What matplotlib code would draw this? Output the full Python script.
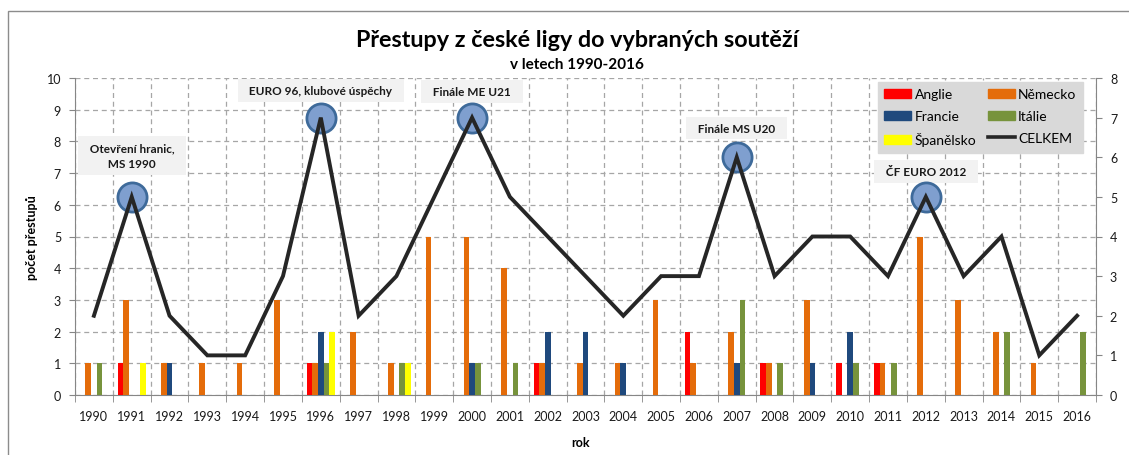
import numpy as np
import matplotlib
matplotlib.use("Agg")
import matplotlib.pyplot as plt
from matplotlib.patches import Rectangle, Patch
from matplotlib.lines import Line2D

plt.rcParams['font.family'] = ['Lato', 'DejaVu Sans']

years = [str(y) for y in range(1990, 2017)]
anglie    = [0,1,0,0,0,0,1,0,0,0,0,0,1,0,0,0,2,0,1,0,1,1,0,0,0,0,0]
nemecko   = [1,3,1,1,1,3,1,2,1,5,5,4,1,1,1,3,1,2,1,3,0,1,5,3,2,1,0]
francie   = [0,0,1,0,0,0,2,0,0,0,1,0,2,2,1,0,0,1,0,1,2,0,0,0,0,0,0]
italie    = [1,0,0,0,0,0,1,0,1,0,1,1,0,0,0,0,0,3,1,0,1,1,0,0,2,0,2]
spanelsko = [0,1,0,0,0,0,2,0,1,0,0,0,0,0,0,0,0,0,0,0,0,0,0,0,0,0,0]
celkem    = [2,5,2,1,1,3,7,2,3,5,7,5,4,3,2,3,3,6,3,4,4,3,5,3,4,1,2]
highlight_years = ['1991', '1996', '2000', '2007', '2012']
annotations = [
    ('Otevření hranic,\nMS 1990', '1991', 7.55),
    ('EURO 96, klubové úspěchy', '1996', 9.6),
    ('Finále ME U21', '2000', 9.57),
    ('Finále MS U20', '2007', 8.42),
    ('ČF EURO 2012', '2012', 7.05),
]

series = [('Anglie', anglie, '#FF0000'),
          ('Německo', nemecko, '#E46C0A'),
          ('Francie', francie, '#1F497D'),
          ('Itálie', italie, '#77933C'),
          ('Španělsko', spanelsko, '#FFFF00')]

W, H = 1129, 456
fig = plt.figure(figsize=(W/100, H/100), dpi=100)
fig.patch.set_facecolor('white')

ax = fig.add_axes([75/W, 1-396/H, (1096-75)/W, (396-79)/H])
x = np.arange(len(years))
bw = 0.15
for k, (name, vals, col) in enumerate(series):
    ax.bar(x + (k-2)*bw, vals, width=bw, color=col, zorder=3, linewidth=0)

ax.set_xlim(-0.5, len(years)-0.5)
ax.set_ylim(0, 10)
ax.set_yticks(range(0, 11))
ax.set_xticks(x)
ax.set_xticklabels(years)
ax.set_xticks(np.arange(-0.5, len(years), 1.0), minor=True)
ax.tick_params(axis='x', which='major', length=0, labelsize=9, pad=11, labelcolor='#1a1a1a')
ax.tick_params(axis='x', which='minor', length=5, color='#868686', direction='out')
ax.tick_params(axis='y', length=4, color='#868686', labelsize=9, labelcolor='#1a1a1a', pad=6)
ax.grid(True, which='minor', axis='x', linestyle=(0, (4, 3)), color='#a6a6a6', linewidth=0.9, zorder=0)
ax.grid(True, which='major', axis='y', linestyle=(0, (4, 3)), color='#a6a6a6', linewidth=0.9, zorder=0)
for s in ['left', 'bottom']:
    ax.spines[s].set_color('#868686')
ax.spines['top'].set_visible(False)
ax.spines['right'].set_visible(False)
ax.set_ylabel('počet přestupů', fontsize=9, fontweight='bold', labelpad=10)
ax.yaxis.set_label_coords(-0.036, 0.5)
ax.set_xlabel('rok', fontsize=9, fontweight='bold')
ax.xaxis.set_label_coords(0.495, -0.13)

ax2 = ax.twinx()
ax2.set_ylim(0, 8)
ax2.set_yticks(range(0, 9))
ax2.tick_params(axis='y', length=4, color='#868686', labelsize=9, labelcolor='#1a1a1a', pad=6)
ax2.spines['right'].set_color('#868686')
for s in ['left', 'top', 'bottom']:
    ax2.spines[s].set_visible(False)

hx = [years.index(y) for y in highlight_years]
hy = [celkem[i] for i in hx]
ax2.plot(hx, hy, linestyle='none', marker='o', markersize=21,
         markerfacecolor='#7F9FCF', markeredgecolor='#3E6A9A', markeredgewidth=2, zorder=2)
ax2.plot(x, celkem, color='#262626', linewidth=2.8, zorder=3, solid_joinstyle='miter')

for txt, yr, yv in annotations:
    padded = '\n'.join('  ' + ln + '  ' for ln in txt.split('\n'))
    ax.text(years.index(yr), yv, padded, ha='center', va='center', fontsize=8.5, fontweight='bold',
            color='#1a1a1a', linespacing=1.55, zorder=5,
            bbox=dict(boxstyle='square,pad=0.5', facecolor='#F2F2F2', edgecolor='none'))

fig.text(0.511, 0.912, 'Přestupy z české ligy do vybraných soutěží', ha='center', va='center',
         fontsize=16.8, fontweight='bold', color='black')
fig.text(0.511, 0.858, 'v letech 1990-2016', ha='center', va='center',
         fontsize=11, fontweight='bold', color='black')

handles = [Patch(color=series[0][2]), Patch(color=series[2][2]), Patch(color=series[4][2]),
           Patch(color=series[1][2]), Patch(color=series[3][2]),
           Line2D([], [], color='#262626', linewidth=2.6)]
labels = ['Anglie', 'Francie', 'Španělsko', 'Německo', 'Itálie', 'CELKEM']
leg = ax2.legend(handles, labels, ncol=2, loc='upper left',
                 bbox_to_anchor=(878/W, 1-83/H), bbox_transform=fig.transFigure,
                 fontsize=10, frameon=True, fancybox=False, facecolor='#D9D9D9', edgecolor='#D9D9D9',
                 framealpha=1, handlelength=1.95, handleheight=0.65, handletextpad=0.25,
                 columnspacing=0.8, labelspacing=0.72, borderpad=0.45, borderaxespad=0)
leg.set_zorder(10)

fig.patches.append(Rectangle((8/W, -0.1), 1.2, 1-12/H+0.1, transform=fig.transFigure,
                             fill=False, edgecolor='#8c8c8c', linewidth=1))

fig.savefig('out.png', dpi=100)
